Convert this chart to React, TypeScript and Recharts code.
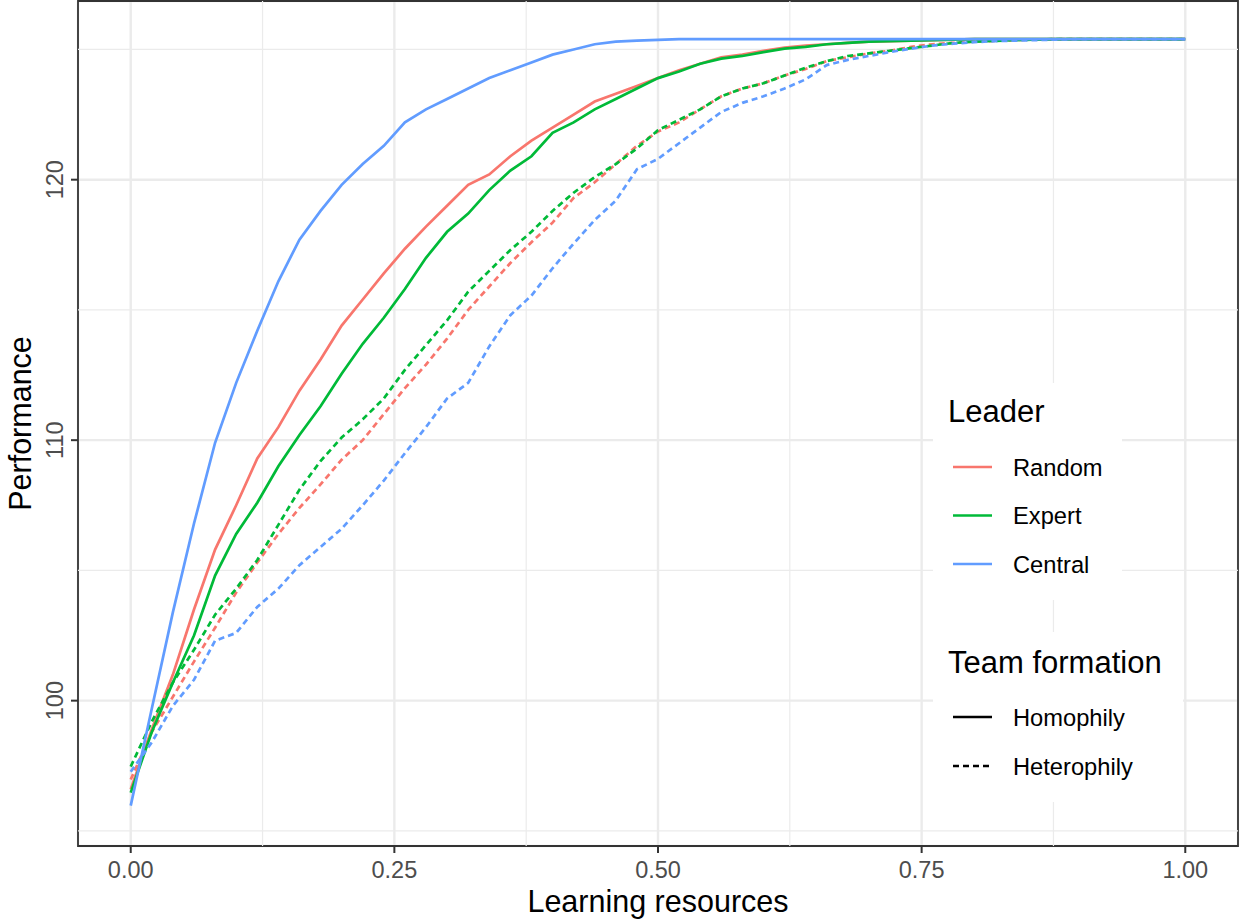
import React from 'react';
import {
  LineChart,
  Line,
  XAxis,
  YAxis,
  CartesianGrid,
  ReferenceLine,
  ReferenceArea,
  Legend,
} from 'recharts';

// Learning resources (x) sampled every 0.02
const resources = [
  0, 0.02, 0.04, 0.06, 0.08, 0.1, 0.12, 0.14, 0.16, 0.18, 0.2, 0.22, 0.24, 0.26, 0.28, 0.3, 0.32,
  0.34, 0.36, 0.38, 0.4, 0.42, 0.44, 0.46, 0.48, 0.5, 0.52, 0.54, 0.56, 0.58, 0.6, 0.62, 0.64,
  0.66, 0.68, 0.7, 0.72, 0.74, 0.76, 0.78, 0.8, 0.82, 0.84, 0.86, 0.88, 0.9, 0.92, 0.94, 0.96,
  0.98, 1.0,
];

// Performance per leader / team formation
const randomHomophily = [
  96.6, 98.9, 101.0, 103.5, 105.8, 107.5, 109.3, 110.5, 111.9, 113.1, 114.4, 115.4, 116.4, 117.35,
  118.2, 119.0, 119.8, 120.2, 120.9, 121.5, 122.0, 122.5, 123.0, 123.3, 123.6, 123.9, 124.2, 124.45,
  124.7, 124.8, 124.95, 125.07, 125.15, 125.2, 125.25, 125.3, 125.32, 125.34, 125.36, 125.38, 125.4,
  125.4, 125.4, 125.4, 125.4, 125.4, 125.4, 125.4, 125.4, 125.4, 125.4,
];
const expertHomophily = [
  96.47, 98.8, 100.7, 102.5, 104.8, 106.4, 107.6, 109.0, 110.2, 111.3, 112.55, 113.7, 114.7, 115.8,
  117.0, 118.0, 118.7, 119.6, 120.35, 120.9, 121.8, 122.2, 122.7, 123.1, 123.5, 123.9, 124.15,
  124.45, 124.65, 124.75, 124.9, 125.03, 125.1, 125.2, 125.25, 125.3, 125.32, 125.34, 125.36,
  125.38, 125.4, 125.4, 125.4, 125.4, 125.4, 125.4, 125.4, 125.4, 125.4, 125.4, 125.4,
];
const centralHomophily = [
  95.97, 99.7, 103.4, 106.8, 109.9, 112.2, 114.2, 116.1, 117.7, 118.8, 119.8, 120.6, 121.3, 122.2,
  122.7, 123.1, 123.5, 123.9, 124.2, 124.5, 124.8, 125.0, 125.2, 125.3, 125.34, 125.37, 125.4, 125.4,
  125.4, 125.4, 125.4, 125.4, 125.4, 125.4, 125.4, 125.4, 125.4, 125.4, 125.4, 125.4, 125.4, 125.4,
  125.4, 125.4, 125.4, 125.4, 125.4, 125.4, 125.4, 125.4, 125.4,
];
const randomHeterophily = [
  96.97, 98.8, 100.15, 101.5, 102.8, 104.15, 105.3, 106.4, 107.4, 108.3, 109.25, 110.0, 111.0,
  112.0, 112.9, 113.9, 115.0, 115.9, 116.8, 117.6, 118.35, 119.3, 119.9, 120.6, 121.3, 121.85,
  122.2, 122.7, 123.2, 123.5, 123.7, 124.0, 124.25, 124.55, 124.7, 124.85, 124.95, 125.1, 125.2,
  125.25, 125.3, 125.33, 125.36, 125.38, 125.4, 125.4, 125.4, 125.4, 125.4, 125.4, 125.4,
];
const expertHeterophily = [
  97.47, 99.2, 100.7, 101.95, 103.3, 104.3, 105.4, 106.75, 108.1, 109.2, 110.1, 110.8, 111.6, 112.7,
  113.65, 114.6, 115.7, 116.5, 117.3, 118.0, 118.8, 119.5, 120.1, 120.6, 121.2, 121.9, 122.3, 122.7,
  123.2, 123.5, 123.7, 124.0, 124.3, 124.55, 124.75, 124.85, 124.95, 125.05, 125.15, 125.25, 125.3,
  125.33, 125.36, 125.38, 125.4, 125.4, 125.4, 125.4, 125.4, 125.4, 125.4,
];
const centralHeterophily = [
  97.27, 98.4, 99.8, 100.8, 102.3, 102.6, 103.6, 104.3, 105.2, 105.9, 106.6, 107.5, 108.45, 109.5,
  110.5, 111.6, 112.2, 113.6, 114.8, 115.55, 116.6, 117.55, 118.45, 119.2, 120.4, 120.8, 121.4,
  122.0, 122.6, 122.95, 123.2, 123.5, 123.85, 124.4, 124.6, 124.75, 124.9, 125.03, 125.15, 125.22,
  125.28, 125.32, 125.34, 125.36, 125.38, 125.4, 125.4, 125.4, 125.4, 125.4, 125.4,
];

const leaders = ['Random', 'Expert', 'Central'];
const formations = ['Homophily', 'Heterophily'];
const xTicks = [0, 0.25, 0.5, 0.75, 1];
const xMinorTicks = [0.125, 0.375, 0.625, 0.875];
const yTicks = [100, 110, 120];
const yMinorTicks = [95, 105, 115, 125];

const leaderColors: Record<string, string> = {
  Random: '#F8766D',
  Expert: '#00BA38',
  Central: '#619CFF',
};
const formationDash: Record<string, string | undefined> = {
  Homophily: undefined,
  Heterophily: '6 4',
};

const series = [
  { key: 'randomHom', leader: 'Random', formation: 'Homophily', values: randomHomophily },
  { key: 'randomHet', leader: 'Random', formation: 'Heterophily', values: randomHeterophily },
  { key: 'expertHom', leader: 'Expert', formation: 'Homophily', values: expertHomophily },
  { key: 'expertHet', leader: 'Expert', formation: 'Heterophily', values: expertHeterophily },
  { key: 'centralHom', leader: 'Central', formation: 'Homophily', values: centralHomophily },
  { key: 'centralHet', leader: 'Central', formation: 'Heterophily', values: centralHeterophily },
];

const data = resources.map((x, i) => {
  const row: Record<string, number> = { x };
  series.forEach((s) => {
    row[s.key] = s.values[i];
  });
  return row;
});

const FONT = '"Liberation Sans", Arial, Helvetica, sans-serif';
const X_DOMAIN: [number, number] = [-0.05, 1.05];
const Y_DOMAIN: [number, number] = [94.42, 126.86];

function XTick(props: any) {
  const { x, y, payload } = props;
  return (
    <text x={x} y={y + 25} textAnchor="middle" fill="#4D4D4D" fontSize={23.5} fontFamily={FONT}>
      {Number(payload.value).toFixed(2)}
    </text>
  );
}

function YTick(props: any) {
  const { x, y, payload } = props;
  const bx = x - 8;
  return (
    <text
      x={bx}
      y={y}
      transform={`rotate(-90 ${bx} ${y})`}
      textAnchor="middle"
      fill="#4D4D4D"
      fontSize={23.5}
      fontFamily={FONT}
    >
      {payload.value}
    </text>
  );
}

function XTitle(props: any) {
  const vb = props.viewBox;
  return (
    <text x={vb.x + vb.width / 2} y={vb.y + 66} textAnchor="middle" fill="#000" fontSize={30.5} fontFamily={FONT}>
      Learning resources
    </text>
  );
}

function YTitle(props: any) {
  const vb = props.viewBox;
  const cy = vb.y + vb.height / 2;
  return (
    <text
      x={31}
      y={cy}
      transform={`rotate(-90 31 ${cy})`}
      textAnchor="middle"
      fill="#000"
      fontSize={30.5}
      fontFamily={FONT}
    >
      Performance
    </text>
  );
}

// ggplot-style legend: two boxes, colour (Leader) and linetype (Team formation)
function LegendBoxes() {
  return (
    <svg width={252} height={420} style={{ display: 'block' }}>
      <rect x={0} y={0} width={189} height={217} fill="#fff" />
      <text x={15} y={39} fontSize={31} fontFamily={FONT} fill="#000">
        Leader
      </text>
      {leaders.map((l, i) => {
        const cy = 84 + i * 48.5;
        return (
          <g key={l}>
            <line x1={20} x2={59} y1={cy} y2={cy} stroke={leaderColors[l]} strokeWidth={2.7} />
            <text x={80} y={cy + 8.5} fontSize={23.7} fontFamily={FONT} fill="#000">
              {l}
            </text>
          </g>
        );
      })}
      <rect x={0} y={249} width={250} height={170} fill="#fff" />
      <text x={15} y={290} fontSize={31} fontFamily={FONT} fill="#000">
        Team formation
      </text>
      {formations.map((f, i) => {
        const cy = 334 + i * 49;
        return (
          <g key={f}>
            <line
              x1={20}
              x2={59}
              y1={cy}
              y2={cy}
              stroke="#000"
              strokeWidth={2.7}
              strokeDasharray={formationDash[f]}
            />
            <text x={80} y={cy + 8.5} fontSize={23.7} fontFamily={FONT} fill="#000">
              {f}
            </text>
          </g>
        );
      })}
    </svg>
  );
}

export default function App() {
  return (
    <div style={{ position: 'absolute', left: 0, top: 0, width: 1240, height: 919, background: '#fff' }}>
      <LineChart width={1240} height={919} data={data} margin={{ top: 1, right: 2, bottom: 0, left: 0 }}>
        {yMinorTicks.map((v) => (
          <ReferenceLine key={`ym${v}`} y={v} stroke="#ebebeb" strokeWidth={1.2} />
        ))}
        {xMinorTicks.map((v) => (
          <ReferenceLine key={`xm${v}`} x={v} stroke="#ebebeb" strokeWidth={1.2} />
        ))}
        <CartesianGrid stroke="#ebebeb" strokeWidth={2.4} />
        <XAxis
          type="number"
          dataKey="x"
          domain={X_DOMAIN}
          ticks={xTicks}
          interval={0}
          allowDataOverflow
          height={73}
          axisLine={false}
          tickSize={7}
          tickMargin={0}
          tickLine={{ stroke: '#333333', strokeWidth: 2 }}
          tick={<XTick />}
          label={<XTitle />}
        />
        <YAxis
          type="number"
          domain={Y_DOMAIN}
          ticks={yTicks}
          interval={0}
          allowDataOverflow
          width={78}
          axisLine={false}
          tickSize={7}
          tickMargin={0}
          tickLine={{ stroke: '#333333', strokeWidth: 2 }}
          tick={<YTick />}
          label={<YTitle />}
        />
        {series.map((s) => (
          <Line
            key={s.key}
            type="linear"
            dataKey={s.key}
            name={`${s.leader} ${s.formation}`}
            stroke={leaderColors[s.leader]}
            strokeWidth={2.7}
            strokeDasharray={formationDash[s.formation]}
            dot={false}
            activeDot={false}
            isAnimationActive={false}
          />
        ))}
        <ReferenceArea
          x1={X_DOMAIN[0]}
          x2={X_DOMAIN[1]}
          y1={Y_DOMAIN[0]}
          y2={Y_DOMAIN[1]}
          fill="none"
          fillOpacity={0}
          stroke="#333333"
          strokeWidth={1.8}
        />
        <Legend
          layout="vertical"
          align="center"
          verticalAlign="middle"
          content={<LegendBoxes />}
          wrapperStyle={{ position: 'absolute', left: 933, top: 383, width: 252, height: 420 }}
        />
      </LineChart>
    </div>
  );
}
